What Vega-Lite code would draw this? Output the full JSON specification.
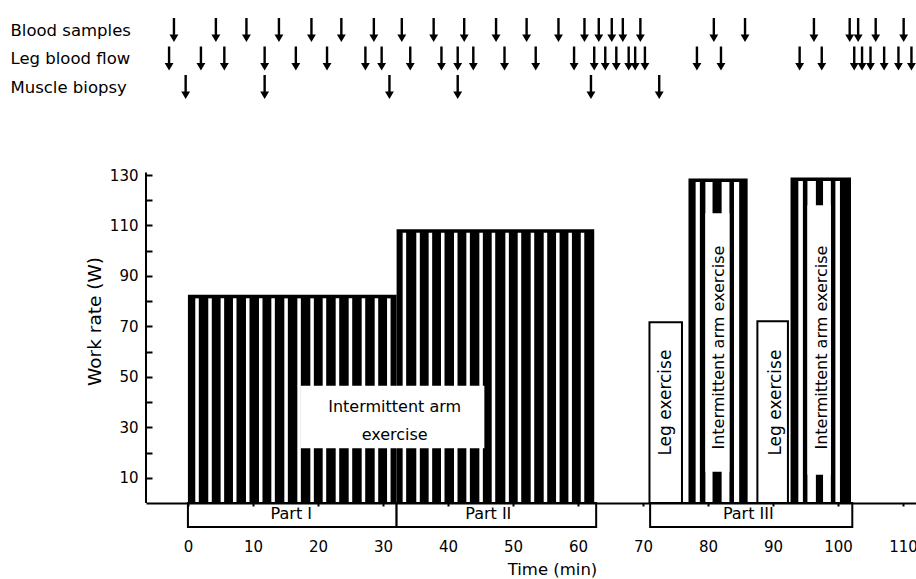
{
  "$schema": "https://vega.github.io/schema/vega-lite/v6.json",
  "width": 770,
  "height": 520,
  "autosize": {"type": "none"},
  "padding": {"left": 146, "top": 10, "right": 0, "bottom": 49},
  "background": "white",
  "config": {
    "font": "DejaVu Sans",
    "view": {"stroke": null},
    "axis": {"grid": false, "domainColor": "black", "tickColor": "black", "labelColor": "black", "titleColor": "black", "titleFontWeight": "normal", "labelFont": "DejaVu Sans", "titleFont": "DejaVu Sans"}
  },
  "datasets": {
    "blocks": [
      {"t": 0, "t2": 32.1, "level": 82.5},
      {"t": 32.1, "t2": 62.5, "level": 108.5},
      {"t": 77.0, "t2": 86.1, "level": 128.6},
      {"t": 92.7, "t2": 102.0, "level": 129.0}
    ],
    "stripes": [
      {"t": 1.13, "t2": 1.67, "level": 82.5}, {"t": 3.13, "t2": 3.67, "level": 82.5}, {"t": 5.03, "t2": 5.57, "level": 82.5}, {"t": 6.93, "t2": 7.47, "level": 82.5},
      {"t": 8.93, "t2": 9.47, "level": 82.5}, {"t": 10.93, "t2": 11.47, "level": 82.5}, {"t": 12.83, "t2": 13.37, "level": 82.5}, {"t": 14.83, "t2": 15.37, "level": 82.5},
      {"t": 16.83, "t2": 17.37, "level": 82.5}, {"t": 18.83, "t2": 19.37, "level": 82.5}, {"t": 20.73, "t2": 21.27, "level": 82.5}, {"t": 22.73, "t2": 23.27, "level": 82.5},
      {"t": 24.73, "t2": 25.27, "level": 82.5}, {"t": 26.73, "t2": 27.27, "level": 82.5}, {"t": 28.73, "t2": 29.27, "level": 82.5}, {"t": 30.63, "t2": 31.17, "level": 82.5},
      {"t": 33.03, "t2": 33.57, "level": 108.5}, {"t": 35.13, "t2": 35.67, "level": 108.5}, {"t": 37.03, "t2": 37.57, "level": 108.5}, {"t": 38.93, "t2": 39.47, "level": 108.5},
      {"t": 40.93, "t2": 41.47, "level": 108.5}, {"t": 42.83, "t2": 43.37, "level": 108.5}, {"t": 44.83, "t2": 45.37, "level": 108.5}, {"t": 46.73, "t2": 47.27, "level": 108.5},
      {"t": 48.83, "t2": 49.37, "level": 108.5}, {"t": 50.73, "t2": 51.27, "level": 108.5}, {"t": 52.73, "t2": 53.27, "level": 108.5}, {"t": 54.73, "t2": 55.27, "level": 108.5},
      {"t": 56.63, "t2": 57.17, "level": 108.5}, {"t": 58.53, "t2": 59.07, "level": 108.5}, {"t": 60.43, "t2": 60.97, "level": 108.5},
      {"t": 78.1, "t2": 78.75, "level": 128.6}, {"t": 79.6, "t2": 80.7, "level": 128.6}, {"t": 82.1, "t2": 83.3, "level": 128.6}, {"t": 84.0, "t2": 84.8, "level": 128.6},
      {"t": 93.9, "t2": 94.6, "level": 129.0}, {"t": 95.3, "t2": 96.6, "level": 129.0}, {"t": 97.7, "t2": 98.9, "level": 129.0}, {"t": 99.6, "t2": 100.3, "level": 129.0}
    ],
    "labelBoxes": [
      {"t": 17.3, "t2": 45.6, "v": 21.7, "v2": 46.5},
      {"t": 79.6, "t2": 83.3, "v": 12.4, "v2": 114.8},
      {"t": 95.3, "t2": 98.9, "v": 11.2, "v2": 118.0}
    ],
    "legBoxes": [
      {"t": 71.0, "t2": 76.0, "level": 71.6},
      {"t": 87.6, "t2": 92.3, "level": 72.0}
    ],
    "parts": [
      {"t": 0, "t2": 32.1, "label": "Part I", "mid": 15.9},
      {"t": 32.1, "t2": 62.8, "label": "Part II", "mid": 46.2},
      {"t": 71.1, "t2": 102.2, "label": "Part III", "mid": 86.2}
    ],
    "hText": [
      {"t": 31.8, "v": 38.0, "label": "Intermittent arm"},
      {"t": 31.8, "v": 27.0, "label": "exercise"}
    ],
    "armText": [
      {"t": 81.7, "v": 61.6, "label": "Intermittent arm exercise"},
      {"t": 97.6, "v": 61.6, "label": "Intermittent arm exercise"}
    ],
    "legText": [
      {"t": 73.5, "v": 39.8, "label": "Leg exercise"},
      {"t": 90.4, "v": 39.8, "label": "Leg exercise"}
    ],
    "arrows": [
      {"row": "Blood samples", "t": -2.15}, {"row": "Blood samples", "t": 4.3}, {"row": "Blood samples", "t": 9.0}, {"row": "Blood samples", "t": 14.0},
      {"row": "Blood samples", "t": 19.0}, {"row": "Blood samples", "t": 23.6}, {"row": "Blood samples", "t": 28.6}, {"row": "Blood samples", "t": 32.9},
      {"row": "Blood samples", "t": 37.8}, {"row": "Blood samples", "t": 42.5}, {"row": "Blood samples", "t": 47.4}, {"row": "Blood samples", "t": 52.1},
      {"row": "Blood samples", "t": 57.0}, {"row": "Blood samples", "t": 61.0}, {"row": "Blood samples", "t": 63.2}, {"row": "Blood samples", "t": 65.2},
      {"row": "Blood samples", "t": 66.9}, {"row": "Blood samples", "t": 69.6}, {"row": "Blood samples", "t": 80.9}, {"row": "Blood samples", "t": 85.7},
      {"row": "Blood samples", "t": 96.3}, {"row": "Blood samples", "t": 101.8}, {"row": "Blood samples", "t": 103.1}, {"row": "Blood samples", "t": 105.8},
      {"row": "Blood samples", "t": 110.1},
      {"row": "Leg blood flow", "t": -2.9}, {"row": "Leg blood flow", "t": 2.0}, {"row": "Leg blood flow", "t": 5.6}, {"row": "Leg blood flow", "t": 11.8},
      {"row": "Leg blood flow", "t": 16.6}, {"row": "Leg blood flow", "t": 21.4}, {"row": "Leg blood flow", "t": 27.3}, {"row": "Leg blood flow", "t": 29.8},
      {"row": "Leg blood flow", "t": 34.2}, {"row": "Leg blood flow", "t": 39.0}, {"row": "Leg blood flow", "t": 41.5}, {"row": "Leg blood flow", "t": 43.9},
      {"row": "Leg blood flow", "t": 48.7}, {"row": "Leg blood flow", "t": 53.5}, {"row": "Leg blood flow", "t": 59.4}, {"row": "Leg blood flow", "t": 62.5},
      {"row": "Leg blood flow", "t": 64.2}, {"row": "Leg blood flow", "t": 65.9}, {"row": "Leg blood flow", "t": 67.8}, {"row": "Leg blood flow", "t": 68.8},
      {"row": "Leg blood flow", "t": 70.3}, {"row": "Leg blood flow", "t": 78.3}, {"row": "Leg blood flow", "t": 82.0}, {"row": "Leg blood flow", "t": 94.1},
      {"row": "Leg blood flow", "t": 97.5}, {"row": "Leg blood flow", "t": 102.5}, {"row": "Leg blood flow", "t": 103.7}, {"row": "Leg blood flow", "t": 105.0},
      {"row": "Leg blood flow", "t": 107.1}, {"row": "Leg blood flow", "t": 109.3}, {"row": "Leg blood flow", "t": 111.3},
      {"row": "Muscle biopsy", "t": -0.35}, {"row": "Muscle biopsy", "t": 11.8}, {"row": "Muscle biopsy", "t": 31.0}, {"row": "Muscle biopsy", "t": 41.5},
      {"row": "Muscle biopsy", "t": 62.0}, {"row": "Muscle biopsy", "t": 72.5}
    ]
  },
  "layer": [
    {
      "layer": [
        {
          "data": {"name": "blocks"},
          "mark": {"type": "rect", "color": "black"},
          "encoding": {
            "x": {"field": "t", "type": "quantitative", "scale": {"domain": [-6.45, 112], "nice": false, "zero": false},
              "axis": {"values": [0, 10, 20, 30, 40, 50, 60, 70, 80, 90, 100, 110], "offset": -27, "tickSize": 3, "tickWidth": 2, "domainWidth": 2,
                "labelFontSize": 15, "labelPadding": 33, "labelFlush": false, "labelOverlap": false, "zindex": 1,
                "title": "Time (min)", "titleFontSize": 16.5, "titleX": 406, "titleY": 66, "titleBaseline": "middle", "titleAlign": "center"}},
            "x2": {"field": "t2"},
            "y": {"field": "level", "type": "quantitative", "scale": {"domain": [-10.7, 195.4], "nice": false, "zero": false},
              "axis": {"orient": "left", "values": [10, 20, 30, 40, 50, 60, 70, 80, 90, 100, 110, 120, 130], "labelExpr": "datum.value % 20 == 10 ? datum.label : ''",
                "domain": false, "tickSize": -6, "tickWidth": 2, "labelFontSize": 15, "labelPadding": 14,
                "title": "Work rate (W)", "titleFontSize": 18.5, "titleX": -52, "titleY": 311, "titleBaseline": "middle", "titleAlign": "center", "titleAngle": 270}},
            "y2": {"datum": 0}
          }
        },
        {
          "data": {"name": "stripes"},
          "mark": {"type": "rect", "color": "white", "yOffset": 3.5},
          "encoding": {
            "x": {"field": "t", "type": "quantitative"},
            "x2": {"field": "t2"},
            "y": {"field": "level", "type": "quantitative"},
            "y2": {"datum": 0}
          }
        },
        {
          "data": {"name": "labelBoxes"},
          "mark": {"type": "rect", "color": "white"},
          "encoding": {
            "x": {"field": "t", "type": "quantitative"},
            "x2": {"field": "t2"},
            "y": {"field": "v", "type": "quantitative"},
            "y2": {"field": "v2"}
          }
        },
        {
          "data": {"name": "legBoxes"},
          "mark": {"type": "rect", "fill": "white", "stroke": "black", "strokeWidth": 2},
          "encoding": {
            "x": {"field": "t", "type": "quantitative"},
            "x2": {"field": "t2"},
            "y": {"field": "level", "type": "quantitative"},
            "y2": {"datum": 0}
          }
        },
        {
          "data": {"name": "parts"},
          "mark": {"type": "rect", "fill": "white", "stroke": "black", "strokeWidth": 2},
          "encoding": {
            "x": {"field": "t", "type": "quantitative"},
            "x2": {"field": "t2"},
            "y": {"datum": 0, "type": "quantitative"},
            "y2": {"datum": -9.5}
          }
        },
        {
          "data": {"name": "parts"},
          "mark": {"type": "text", "fontSize": 16, "color": "black", "baseline": "middle", "align": "center"},
          "encoding": {
            "x": {"field": "mid", "type": "quantitative"},
            "y": {"datum": -4.4, "type": "quantitative"},
            "text": {"field": "label"}
          }
        },
        {
          "data": {"values": [{}]},
          "mark": {"type": "rule", "color": "black", "strokeWidth": 2},
          "encoding": {
            "x": {"datum": -6.45, "type": "quantitative"},
            "y": {"datum": 0, "type": "quantitative"},
            "y2": {"datum": 131}
          }
        },
        {
          "data": {"name": "hText"},
          "mark": {"type": "text", "fontSize": 16, "color": "black", "baseline": "middle", "align": "center"},
          "encoding": {
            "x": {"field": "t", "type": "quantitative"},
            "y": {"field": "v", "type": "quantitative"},
            "text": {"field": "label"}
          }
        },
        {
          "data": {"name": "armText"},
          "mark": {"type": "text", "fontSize": 16, "color": "black", "baseline": "middle", "align": "center", "angle": 270},
          "encoding": {
            "x": {"field": "t", "type": "quantitative"},
            "y": {"field": "v", "type": "quantitative"},
            "text": {"field": "label"}
          }
        },
        {
          "data": {"name": "legText"},
          "mark": {"type": "text", "fontSize": 17, "color": "black", "baseline": "middle", "align": "center", "angle": 270},
          "encoding": {
            "x": {"field": "t", "type": "quantitative"},
            "y": {"field": "v", "type": "quantitative"},
            "text": {"field": "label"}
          }
        }
      ]
    },
    {
      "data": {"name": "arrows"},
      "mark": {"type": "point", "shape": "M-0.1,-1L0.1,-1L0.1,0.38L0.37,0.38L0,1L-0.37,0.38L-0.1,0.38Z", "size": 576, "filled": true, "color": "black", "opacity": 1, "strokeWidth": 0},
      "encoding": {
        "x": {"field": "t", "type": "quantitative"},
        "y": {"field": "row", "type": "nominal",
          "scale": {"type": "point", "domain": ["Blood samples", "Leg blood flow", "Muscle biopsy"], "range": [20, 77], "padding": 0},
          "axis": {"orient": "left", "domain": false, "ticks": false, "tickSize": 0, "labelAlign": "left", "labelPadding": 136, "labelFontSize": 16.5, "labelBaseline": "middle", "labelLimit": 200, "title": null}}
      }
    }
  ],
  "resolve": {"scale": {"y": "independent"}, "axis": {"y": "independent"}}
}
